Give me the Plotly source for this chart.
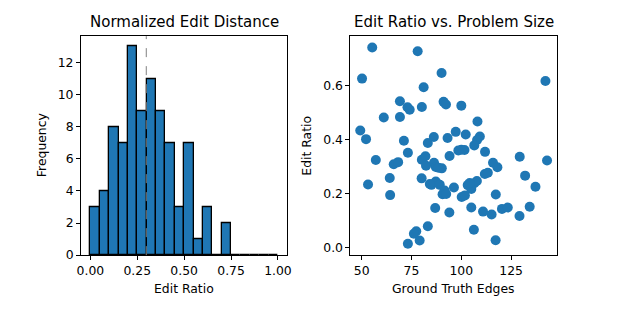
import plotly.graph_objects as go

# ---- Data ----
bin_edges = [0.00, 0.05, 0.10, 0.15, 0.20, 0.25, 0.30, 0.35, 0.40, 0.45, 0.50,
             0.55, 0.60, 0.65, 0.70, 0.75, 0.80, 0.85, 0.90, 0.95, 1.00]
hist_counts = [3, 4, 8, 7, 13, 9, 11, 9, 7, 3, 7, 1, 3, 0, 2, 0, 0, 0, 0, 0]
median_ratio = 0.298

gt_edges = [
    55.3, 78.1, 90.1, 50.2, 142.2, 81.1,
    69.2, 91.1, 92.3, 100.0, 73.0, 74.1, 80.2,
    61.1, 69.2, 108.1,
    49.3, 52.2, 86.2, 93.1, 97.2, 102.2, 109.3,
    71.2, 83.2, 107.9, 106.5, 100.0, 101.6, 73.2, 111.9, 98.5,
    94.1, 129.3, 143.0, 57.1, 66.1, 68.3, 80.2, 82.0, 82.3, 86.3, 115.9,
    87.2, 90.2, 88.5, 118.1, 111.8, 113.3, 132.0, 64.1, 80.1,
    85.0, 87.2, 89.2, 53.2, 96.3, 103.2, 105.0, 106.5, 107.8, 137.2, 91.6, 84.2, 104.2,
    64.3, 90.6, 92.4, 100.2, 101.8, 117.3, 134.3,
    105.0, 86.9, 120.4, 123.3, 110.9, 115.2, 129.2, 94.0,
    83.2, 106.3, 77.4, 76.2,
    73.2, 79.1, 117.2,
]
edit_ratio = [
    0.741, 0.727, 0.647, 0.626, 0.617, 0.594,
    0.542, 0.540, 0.530, 0.526, 0.520, 0.511, 0.521,
    0.482, 0.484, 0.467,
    0.434, 0.402, 0.410, 0.406, 0.429, 0.419, 0.412,
    0.396, 0.388, 0.399, 0.379, 0.363, 0.362, 0.352, 0.355, 0.360,
    0.340, 0.337, 0.323, 0.325, 0.309, 0.317, 0.326, 0.339, 0.304, 0.315, 0.315,
    0.299, 0.294, 0.296, 0.298, 0.273, 0.278, 0.267, 0.258, 0.257,
    0.233, 0.245, 0.233, 0.234, 0.223, 0.232, 0.218, 0.239, 0.247, 0.226, 0.212, 0.236, 0.240,
    0.195, 0.198, 0.199, 0.188, 0.194, 0.197, 0.152,
    0.149, 0.147, 0.144, 0.149, 0.134, 0.123, 0.118, 0.131,
    0.080, 0.067, 0.061, 0.052,
    0.015, 0.027, 0.028,
]

left_xticks = [0.0, 0.25, 0.5, 0.75, 1.0]
left_xticklabels = ["0.00", "0.25", "0.50", "0.75", "1.00"]
left_yticks = [0, 2, 4, 6, 8, 10, 12]
right_xticks = [50, 75, 100, 125]
right_yticks = [0.0, 0.2, 0.4, 0.6]
right_yticklabels = ["0.0", "0.2", "0.4", "0.6"]

BLUE = "#1f77b4"
W, H = 622, 311
FONT = "DejaVu Sans"
TICK = 12.4
TITLE = 15

bin_centers = [(a + b) / 2 for a, b in zip(bin_edges[:-1], bin_edges[1:])]
bin_widths = [b - a for a, b in zip(bin_edges[:-1], bin_edges[1:])]

fig = go.Figure()
fig.add_trace(go.Bar(
    x=bin_centers, y=hist_counts, width=bin_widths,
    marker=dict(color=BLUE, line=dict(color="black", width=1.3)),
    xaxis="x", yaxis="y", showlegend=False,
))
fig.add_trace(go.Scatter(
    x=gt_edges, y=edit_ratio, mode="markers",
    marker=dict(color=BLUE, size=10, line=dict(width=0)),
    xaxis="x2", yaxis="y2", showlegend=False,
))

# domains from pixel layout
lx0, lx1 = 78 / W, 287 / W
rx0, rx1 = 351 / W, 560 / W
yb, yt = 1 - 261 / H, 1 - 37 / H

axis_common = dict(
    showline=True, linecolor="black", linewidth=1, mirror=True,
    ticks="outside", ticklen=4, tickwidth=1, tickcolor="black",
    showgrid=False, zeroline=False,
    tickfont=dict(family=FONT, size=TICK, color="black"),
)

fig.update_layout(
    width=W, height=H, autosize=False,
    margin=dict(l=0, r=0, t=0, b=0, pad=0),
    paper_bgcolor="white", plot_bgcolor="white",
    bargap=0,
    xaxis=dict(domain=[lx0, lx1], anchor="y", range=[-0.05, 1.05],
               tickvals=left_xticks, ticktext=left_xticklabels, **axis_common),
    yaxis=dict(domain=[yb, yt], anchor="x", range=[0, 13.65],
               tickvals=left_yticks, **axis_common),
    xaxis2=dict(domain=[rx0, rx1], anchor="y2", range=[44.4, 147.9],
                tickvals=right_xticks, **axis_common),
    yaxis2=dict(domain=[yb, yt], anchor="x2", range=[-0.027, 0.783],
                tickvals=right_yticks, ticktext=right_yticklabels, **axis_common),
)

# median line
fig.add_shape(type="line", xref="x", yref="y domain",
              x0=median_ratio, x1=median_ratio, y0=0, y1=1,
              line=dict(color="gray", width=1, dash="dash"), layer="above")

def txt(text, x, y, size, angle=0):
    fig.add_annotation(text=text, xref="paper", yref="paper",
                       x=x / W, y=1 - y / H, xanchor="center", yanchor="middle",
                       showarrow=False, textangle=angle,
                       font=dict(family=FONT, size=size, color="black"))

txt("Normalized Edit Distance", (78 + 287) / 2, 23, TITLE)
txt("Edit Ratio vs. Problem Size", (351 + 560) / 2, 23, TITLE)
txt("Edit Ratio", (78 + 287) / 2, 295, TICK)
txt("Ground Truth Edges", (351 + 560) / 2, 295, TICK)
txt("Frequency", 38, 149, TICK, -90)
txt("Edit Ratio", 307, 149, TICK, -90)

fig.write_html("out.html", config={"displayModeBar": False, "responsive": False},
               default_width=f"{W}px", default_height=f"{H}px")

with open("out.html", "r", encoding="utf-8") as f:
    html = f.read()
html = html.replace("<head>", "<head><style>html,body{margin:0;padding:0;overflow:hidden;}</style>", 1)
with open("out.html", "w", encoding="utf-8") as f:
    f.write(html)
